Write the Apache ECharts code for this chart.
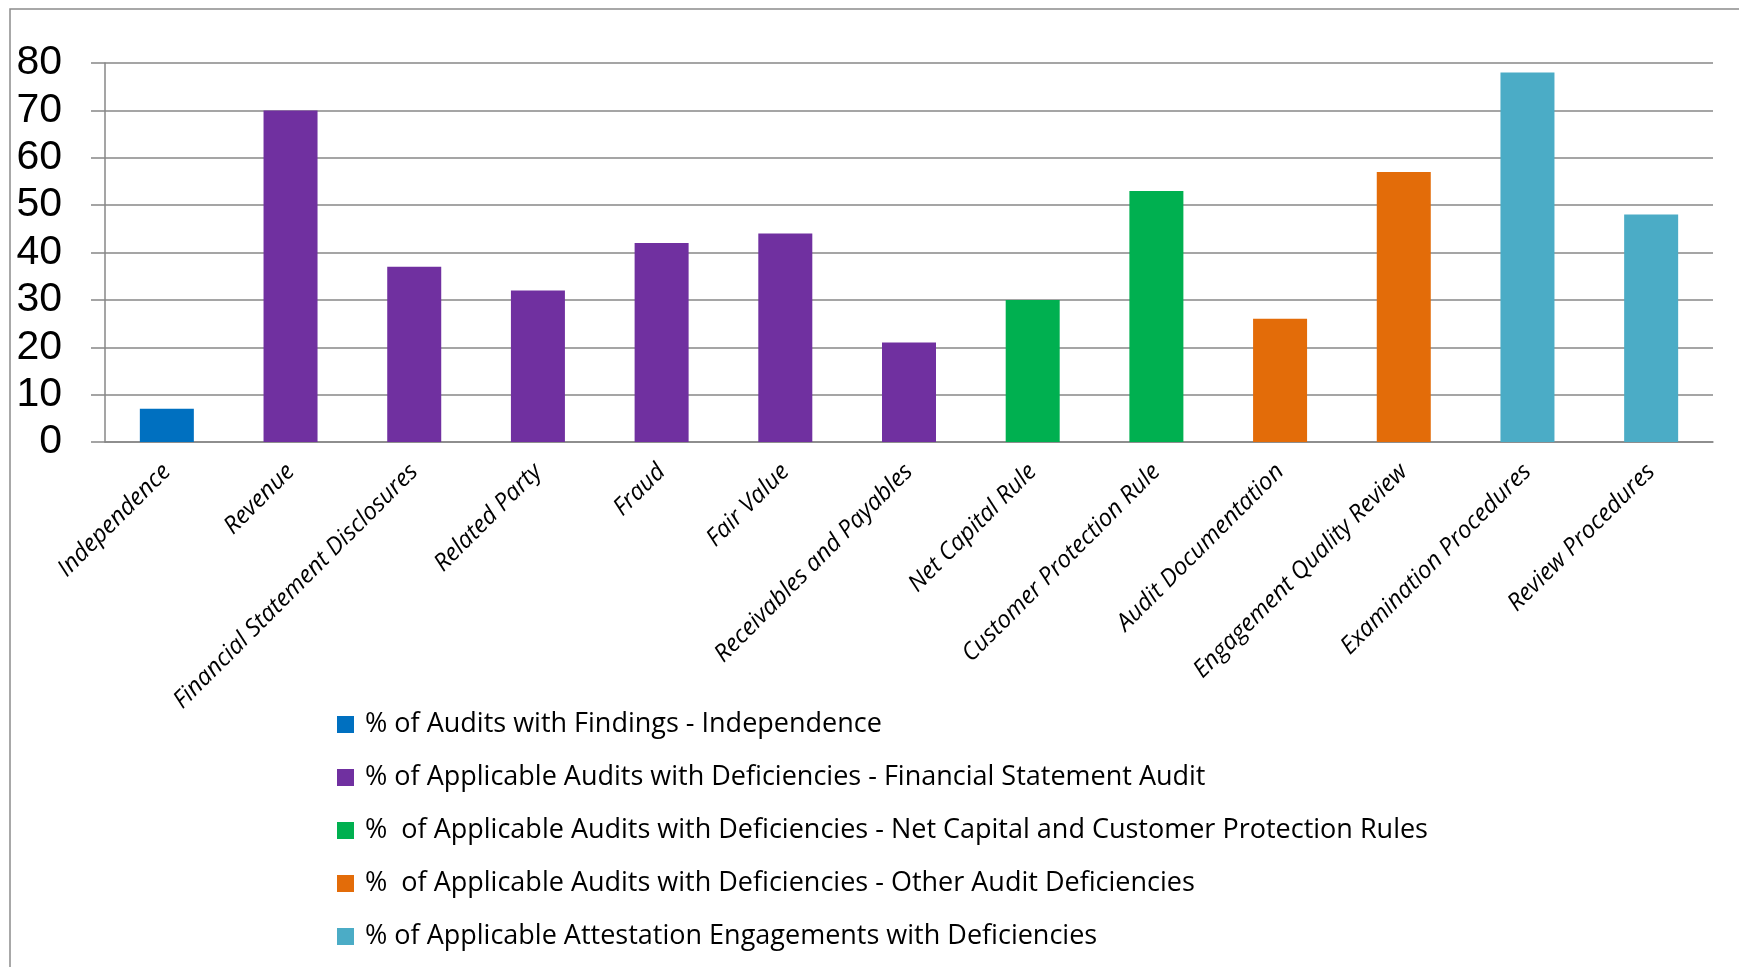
<!DOCTYPE html>
<html>
<head>
<meta charset="utf-8">
<script src="https://cdn.jsdelivr.net/npm/echarts@6/dist/echarts.min.js"></script>
<style>
html,body{margin:0;padding:0;background:#fff;}
#chart{width:1739px;height:967px;}
</style>
</head>
<body>
<div id="chart"></div>
<script>
const categories = ['Independence','Revenue','Financial Statement Disclosures','Related Party','Fraud','Fair Value','Receivables and Payables','Net Capital Rule','Customer Protection Rule','Audit Documentation','Engagement Quality Review','Examination Procedures','Review Procedures'];
const seriesNames = [
  '% of Audits with Findings - Independence',
  '% of Applicable Audits with Deficiencies - Financial Statement Audit',
  '%  of Applicable Audits with Deficiencies - Net Capital and Customer Protection Rules',
  '%  of Applicable Audits with Deficiencies - Other Audit Deficiencies',
  '% of Applicable Attestation Engagements with Deficiencies'
];
const independence = [7,'-','-','-','-','-','-','-','-','-','-','-','-'];
const financialStatement = ['-',70,37,32,42,44,21,'-','-','-','-','-','-'];
const netCapitalCustomer = ['-','-','-','-','-','-','-',30,53,'-','-','-','-'];
const otherAudit = ['-','-','-','-','-','-','-','-','-',26,57,'-','-'];
const attestation = ['-','-','-','-','-','-','-','-','-','-','-',78,48];
const yTicks = {min:0, max:80, interval:10};
const colors = ['#0070C0','#7030A0','#00B050','#E36C09','#4BACC6'];

const dataSets = [independence, financialStatement, netCapitalCustomer, otherAudit, attestation];
const chart = echarts.init(document.getElementById('chart'));
const gray = '#878787';
chart.setOption({
  animation:false,
  backgroundColor:'#fff',
  color: colors,
  graphic:[{type:'rect', shape:{x:10,y:9,width:1800,height:1100}, style:{fill:'none', stroke:'#8c8c8c', lineWidth:1.5}, silent:true, z:-1}],
  grid:{left:105, right:26, top:63, bottom:525, containLabel:false},
  legend:{
    orient:'vertical', left:332, top:706,
    itemWidth:17, itemHeight:17, itemGap:26,
    icon:'rect',
    textStyle:{fontFamily:'Open Sans', fontSize:27, color:'#000', lineHeight:24, padding:[0,0,0,6]},
    data: seriesNames
  },
  xAxis:{
    type:'category', data:categories,
    axisLine:{lineStyle:{color:gray, width:1.5}},
    axisTick:{show:false},
    axisLabel:{rotate:45, interval:0, fontFamily:'Open Sans', fontStyle:'italic', fontSize:24, color:'#000', margin:26}
  },
  yAxis:{
    type:'value', min:yTicks.min, max:yTicks.max, interval:yTicks.interval,
    axisLine:{show:true, lineStyle:{color:gray, width:1.5}},
    axisTick:{show:true, length:14, lineStyle:{color:gray, width:1.5}},
    splitLine:{lineStyle:{color:gray, width:1.5}},
    axisLabel:{fontFamily:'Liberation Sans', fontSize:41, color:'#000', margin:43}
  },
  series: dataSets.map((d,i)=>({
    name: seriesNames[i], type:'bar', stack:'all', data:d, barWidth:54,
    itemStyle:{color:colors[i]}
  }))
});
</script>
</body>
</html>
